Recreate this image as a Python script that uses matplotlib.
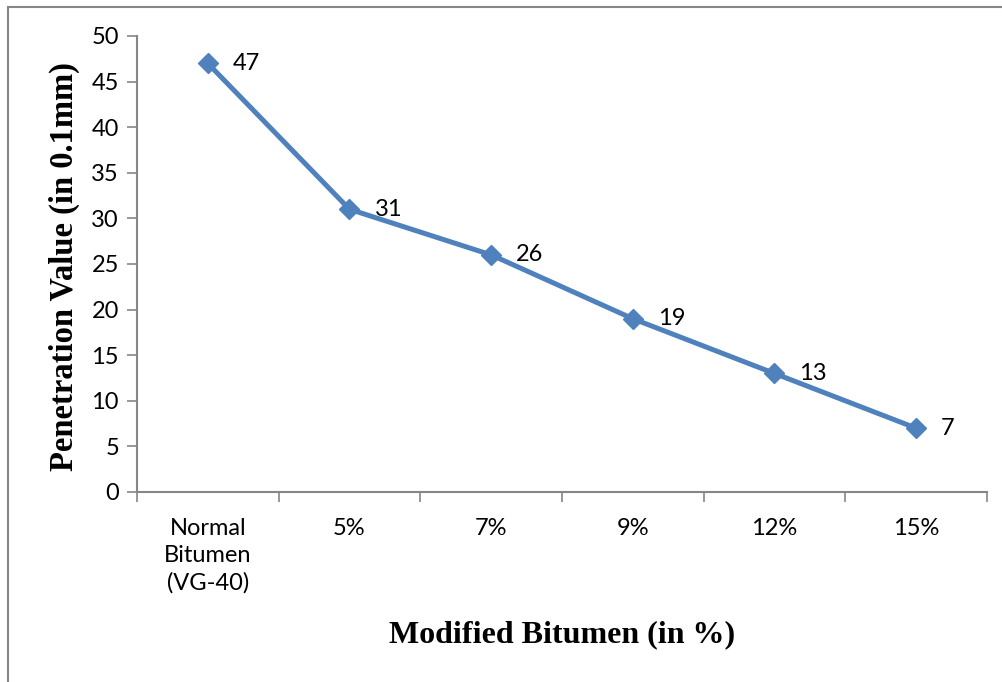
import matplotlib
matplotlib.use("Agg")
import matplotlib.pyplot as plt
from matplotlib.lines import Line2D

categories = ["Normal\nBitumen\n(VG-40)", "5%", "7%", "9%", "12%", "15%"]
values = [47, 31, 26, 19, 13, 7]
yticks = [0, 5, 10, 15, 20, 25, 30, 35, 40, 45, 50]

W, H = 1003, 682
fig = plt.figure(figsize=(W / 100, H / 100), dpi=100)
ax = fig.add_axes([137 / W, 1 - 492 / H, (987 - 137) / W, (492 - 36) / H])

tick_font = dict(family="Lato", size=17)
color = "#4F81BD"
x = list(range(len(values)))
ax.plot(x, values, color=color, lw=3.6, marker="D", markersize=10.5,
        markerfacecolor=color, markeredgecolor=color, solid_joinstyle="round")
for xi, v in zip(x, values):
    ax.annotate(str(v), (xi, v), xytext=(18, 0), textcoords="offset points",
                va="center", ha="left", fontfamily="Lato", fontsize=17)

ax.set_xlim(-0.5, len(values) - 0.5)
ax.set_ylim(0, 50)
ax.set_yticks(yticks)
ax.set_yticklabels([str(t) for t in yticks], **tick_font)
ax.set_xticks([i - 0.5 for i in range(len(values) + 1)], minor=False)
ax.set_xticklabels([])
ax.set_xticks(x, minor=True)
ax.set_xticklabels(categories, minor=True, **tick_font, linespacing=1.35, va="top")
ax.tick_params(axis="x", which="minor", length=0, pad=19)
ax.tick_params(axis="x", which="major", length=7, width=1.2, color="#868686", direction="out")
ax.tick_params(axis="y", length=7, width=1.2, color="#868686", direction="out", pad=6)
for s in ["top", "right"]:
    ax.spines[s].set_visible(False)
for s in ["left", "bottom"]:
    ax.spines[s].set_color("#868686")
    ax.spines[s].set_linewidth(1.5)

fig.text(64 / W, 1 - 267 / H, "Penetration Value (in 0.1mm)", rotation=90,
         ha="center", va="center", family="Liberation Serif", weight="bold", fontsize=23.5)
fig.text(562 / W, 1 - 635 / H, "Modified Bitumen (in %)", ha="center", va="center",
         family="Liberation Serif", weight="bold", fontsize=23)

fig.add_artist(Line2D([8 / W, 8 / W], [0, 1 - 7 / H], transform=fig.transFigure,
                      color="#868686", lw=1.5))
fig.add_artist(Line2D([8 / W, 1], [1 - 7 / H, 1 - 7 / H], transform=fig.transFigure,
                      color="#868686", lw=1.5))

fig.savefig("out.png", dpi=100)
